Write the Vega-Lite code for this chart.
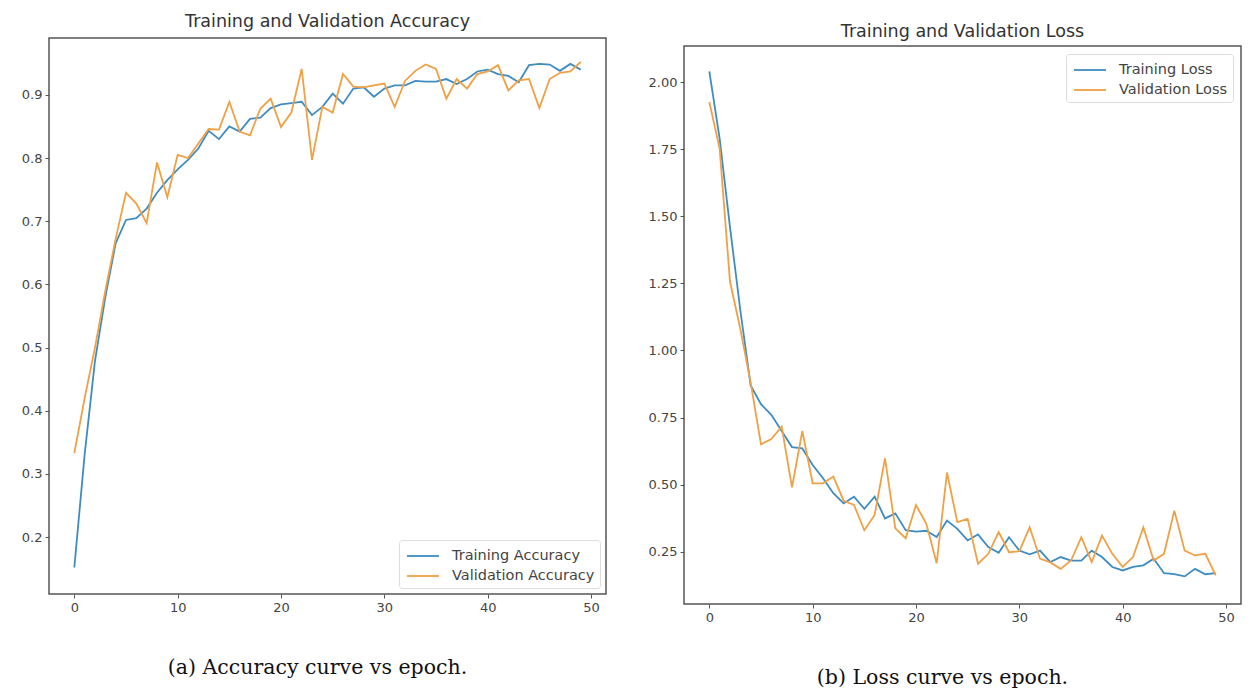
{
  "$schema": "https://vega.github.io/schema/vega-lite/v6.json",
  "background": "white",
  "padding": {"left": 20, "top": 7, "right": 5, "bottom": 0},
  "spacing": 40,
  "datasets": {
    "acc": [
      {"epoch":0,"Training Accuracy":0.152,"Validation Accuracy":0.333},
      {"epoch":1,"Training Accuracy":0.331,"Validation Accuracy":0.42},
      {"epoch":2,"Training Accuracy":0.479,"Validation Accuracy":0.5},
      {"epoch":3,"Training Accuracy":0.58,"Validation Accuracy":0.59},
      {"epoch":4,"Training Accuracy":0.665,"Validation Accuracy":0.672},
      {"epoch":5,"Training Accuracy":0.702,"Validation Accuracy":0.745},
      {"epoch":6,"Training Accuracy":0.705,"Validation Accuracy":0.728},
      {"epoch":7,"Training Accuracy":0.72,"Validation Accuracy":0.697},
      {"epoch":8,"Training Accuracy":0.745,"Validation Accuracy":0.793},
      {"epoch":9,"Training Accuracy":0.765,"Validation Accuracy":0.738},
      {"epoch":10,"Training Accuracy":0.782,"Validation Accuracy":0.805},
      {"epoch":11,"Training Accuracy":0.797,"Validation Accuracy":0.8},
      {"epoch":12,"Training Accuracy":0.815,"Validation Accuracy":0.823},
      {"epoch":13,"Training Accuracy":0.843,"Validation Accuracy":0.846},
      {"epoch":14,"Training Accuracy":0.83,"Validation Accuracy":0.845},
      {"epoch":15,"Training Accuracy":0.85,"Validation Accuracy":0.889},
      {"epoch":16,"Training Accuracy":0.842,"Validation Accuracy":0.842},
      {"epoch":17,"Training Accuracy":0.862,"Validation Accuracy":0.836},
      {"epoch":18,"Training Accuracy":0.864,"Validation Accuracy":0.878},
      {"epoch":19,"Training Accuracy":0.879,"Validation Accuracy":0.894},
      {"epoch":20,"Training Accuracy":0.885,"Validation Accuracy":0.849},
      {"epoch":21,"Training Accuracy":0.887,"Validation Accuracy":0.872},
      {"epoch":22,"Training Accuracy":0.889,"Validation Accuracy":0.941},
      {"epoch":23,"Training Accuracy":0.868,"Validation Accuracy":0.797},
      {"epoch":24,"Training Accuracy":0.881,"Validation Accuracy":0.881},
      {"epoch":25,"Training Accuracy":0.902,"Validation Accuracy":0.872},
      {"epoch":26,"Training Accuracy":0.886,"Validation Accuracy":0.933},
      {"epoch":27,"Training Accuracy":0.91,"Validation Accuracy":0.913},
      {"epoch":28,"Training Accuracy":0.912,"Validation Accuracy":0.912},
      {"epoch":29,"Training Accuracy":0.897,"Validation Accuracy":0.915},
      {"epoch":30,"Training Accuracy":0.91,"Validation Accuracy":0.918},
      {"epoch":31,"Training Accuracy":0.915,"Validation Accuracy":0.881},
      {"epoch":32,"Training Accuracy":0.915,"Validation Accuracy":0.922},
      {"epoch":33,"Training Accuracy":0.922,"Validation Accuracy":0.938},
      {"epoch":34,"Training Accuracy":0.921,"Validation Accuracy":0.948},
      {"epoch":35,"Training Accuracy":0.921,"Validation Accuracy":0.941},
      {"epoch":36,"Training Accuracy":0.925,"Validation Accuracy":0.894},
      {"epoch":37,"Training Accuracy":0.917,"Validation Accuracy":0.925},
      {"epoch":38,"Training Accuracy":0.925,"Validation Accuracy":0.91},
      {"epoch":39,"Training Accuracy":0.937,"Validation Accuracy":0.933},
      {"epoch":40,"Training Accuracy":0.94,"Validation Accuracy":0.937},
      {"epoch":41,"Training Accuracy":0.933,"Validation Accuracy":0.947},
      {"epoch":42,"Training Accuracy":0.93,"Validation Accuracy":0.907},
      {"epoch":43,"Training Accuracy":0.92,"Validation Accuracy":0.923},
      {"epoch":44,"Training Accuracy":0.947,"Validation Accuracy":0.925},
      {"epoch":45,"Training Accuracy":0.949,"Validation Accuracy":0.879},
      {"epoch":46,"Training Accuracy":0.948,"Validation Accuracy":0.925},
      {"epoch":47,"Training Accuracy":0.938,"Validation Accuracy":0.935},
      {"epoch":48,"Training Accuracy":0.949,"Validation Accuracy":0.937},
      {"epoch":49,"Training Accuracy":0.94,"Validation Accuracy":0.952}
    ],
    "loss": [
      {"epoch":0,"Training Loss":2.04,"Validation Loss":1.926},
      {"epoch":1,"Training Loss":1.79,"Validation Loss":1.752},
      {"epoch":2,"Training Loss":1.46,"Validation Loss":1.257},
      {"epoch":3,"Training Loss":1.15,"Validation Loss":1.08},
      {"epoch":4,"Training Loss":0.87,"Validation Loss":0.88},
      {"epoch":5,"Training Loss":0.8,"Validation Loss":0.65},
      {"epoch":6,"Training Loss":0.76,"Validation Loss":0.67},
      {"epoch":7,"Training Loss":0.7,"Validation Loss":0.716},
      {"epoch":8,"Training Loss":0.64,"Validation Loss":0.49},
      {"epoch":9,"Training Loss":0.635,"Validation Loss":0.7},
      {"epoch":10,"Training Loss":0.573,"Validation Loss":0.505},
      {"epoch":11,"Training Loss":0.524,"Validation Loss":0.505},
      {"epoch":12,"Training Loss":0.468,"Validation Loss":0.53},
      {"epoch":13,"Training Loss":0.43,"Validation Loss":0.44},
      {"epoch":14,"Training Loss":0.455,"Validation Loss":0.424},
      {"epoch":15,"Training Loss":0.41,"Validation Loss":0.33},
      {"epoch":16,"Training Loss":0.455,"Validation Loss":0.387},
      {"epoch":17,"Training Loss":0.374,"Validation Loss":0.598},
      {"epoch":18,"Training Loss":0.393,"Validation Loss":0.337},
      {"epoch":19,"Training Loss":0.33,"Validation Loss":0.3},
      {"epoch":20,"Training Loss":0.325,"Validation Loss":0.424},
      {"epoch":21,"Training Loss":0.328,"Validation Loss":0.354},
      {"epoch":22,"Training Loss":0.305,"Validation Loss":0.207},
      {"epoch":23,"Training Loss":0.366,"Validation Loss":0.545},
      {"epoch":24,"Training Loss":0.335,"Validation Loss":0.36},
      {"epoch":25,"Training Loss":0.292,"Validation Loss":0.372},
      {"epoch":26,"Training Loss":0.314,"Validation Loss":0.205},
      {"epoch":27,"Training Loss":0.267,"Validation Loss":0.242},
      {"epoch":28,"Training Loss":0.246,"Validation Loss":0.323},
      {"epoch":29,"Training Loss":0.304,"Validation Loss":0.248},
      {"epoch":30,"Training Loss":0.254,"Validation Loss":0.252},
      {"epoch":31,"Training Loss":0.24,"Validation Loss":0.341},
      {"epoch":32,"Training Loss":0.254,"Validation Loss":0.224},
      {"epoch":33,"Training Loss":0.211,"Validation Loss":0.21},
      {"epoch":34,"Training Loss":0.23,"Validation Loss":0.186},
      {"epoch":35,"Training Loss":0.217,"Validation Loss":0.217},
      {"epoch":36,"Training Loss":0.217,"Validation Loss":0.304},
      {"epoch":37,"Training Loss":0.254,"Validation Loss":0.211},
      {"epoch":38,"Training Loss":0.23,"Validation Loss":0.31},
      {"epoch":39,"Training Loss":0.193,"Validation Loss":0.242},
      {"epoch":40,"Training Loss":0.18,"Validation Loss":0.193},
      {"epoch":41,"Training Loss":0.193,"Validation Loss":0.23},
      {"epoch":42,"Training Loss":0.199,"Validation Loss":0.341},
      {"epoch":43,"Training Loss":0.224,"Validation Loss":0.217},
      {"epoch":44,"Training Loss":0.17,"Validation Loss":0.242},
      {"epoch":45,"Training Loss":0.166,"Validation Loss":0.403},
      {"epoch":46,"Training Loss":0.158,"Validation Loss":0.254},
      {"epoch":47,"Training Loss":0.186,"Validation Loss":0.236},
      {"epoch":48,"Training Loss":0.166,"Validation Loss":0.242},
      {"epoch":49,"Training Loss":0.17,"Validation Loss":0.162}
    ]
  },
  "config": {
    "font": "DejaVu Sans",
    "view": {"stroke": "#555555", "strokeWidth": 1.5},
    "axis": {
      "domain": false, "grid": false, "tickColor": "#555555", "tickSize": 4, "tickWidth": 1,
      "labelColor": "#444444", "labelFontSize": 13, "labelPadding": 3,
      "titleFont": "DejaVu Serif", "titleFontSize": 20.5, "titleFontWeight": "normal", "titleColor": "#111111"
    },
    "legend": {
      "title": null, "symbolType": "M-1.6,0H1.6", "symbolSize": 400, "symbolStrokeWidth": 2, "symbolOffset": 8,
      "labelFontSize": 14.5, "labelColor": "#444444", "strokeColor": "#dddddd", "fillColor": "white",
      "padding": 5, "cornerRadius": 3, "rowPadding": 2, "labelOffset": 18
    },
    "line": {"strokeWidth": 1.8},
    "text": {"font": "DejaVu Sans", "fontSize": 17.5, "color": "#333333"}
  },
  "resolve": {"scale": {"color": "independent"}, "legend": {"color": "independent"}},
  "hconcat": [
    {
      "spacing": 0,
      "resolve": {"scale": {"color": "independent"}, "legend": {"color": "independent"}},
      "vconcat": [
        {
          "width": 557, "height": 30,
          "view": {"stroke": null},
          "data": {"values": [{"label": "Training and Validation Accuracy"}]},
          "mark": {"type": "text"},
          "encoding": {"text": {"field": "label", "type": "nominal"}}
        },
        {
          "width": 557, "height": 556,
          "data": {"name": "acc"},
          "transform": [{"fold": ["Training Accuracy", "Validation Accuracy"], "as": ["series", "value"]}],
          "mark": {"type": "line"},
          "encoding": {
            "x": {"field": "epoch", "type": "quantitative",
              "scale": {"domain": [-2.45, 51.45], "nice": false, "zero": false},
              "axis": {"values": [0, 10, 20, 30, 40, 50], "title": "(a) Accuracy curve vs epoch.", "titlePadding": 43, "titleX": 268}},
            "y": {"field": "value", "type": "quantitative",
              "scale": {"domain": [0.11, 0.99], "nice": false, "zero": false},
              "axis": {"values": [0.2, 0.3, 0.4, 0.5, 0.6, 0.7, 0.8, 0.9], "format": ".1f", "title": null}},
            "color": {"field": "series", "type": "nominal",
              "scale": {"domain": ["Training Accuracy", "Validation Accuracy"], "range": ["#3f8cc2", "#f0a045"]},
              "legend": {"orient": "bottom-right", "offset": 6}}
          }
        }
      ]
    },
    {
      "spacing": 0,
      "resolve": {"scale": {"color": "independent"}, "legend": {"color": "independent"}},
      "vconcat": [
        {
          "width": 557, "height": 38,
          "view": {"stroke": null},
          "data": {"values": [{"label": "Training and Validation Loss"}]},
          "mark": {"type": "text", "dy": 6},
          "encoding": {"text": {"field": "label", "type": "nominal"}}
        },
        {
          "width": 557, "height": 558,
          "data": {"name": "loss"},
          "transform": [{"fold": ["Training Loss", "Validation Loss"], "as": ["series", "value"]}],
          "mark": {"type": "line"},
          "encoding": {
            "x": {"field": "epoch", "type": "quantitative",
              "scale": {"domain": [-2.45, 51.45], "nice": false, "zero": false},
              "axis": {"values": [0, 10, 20, 30, 40, 50], "title": "(b) Loss curve vs epoch.", "titlePadding": 43, "titleX": 258}},
            "y": {"field": "value", "type": "quantitative",
              "scale": {"domain": [0.055, 2.135], "nice": false, "zero": false},
              "axis": {"values": [0.25, 0.5, 0.75, 1.0, 1.25, 1.5, 1.75, 2.0], "format": ".2f", "title": null}},
            "color": {"field": "series", "type": "nominal",
              "scale": {"domain": ["Training Loss", "Validation Loss"], "range": ["#3f8cc2", "#f0a045"]},
              "legend": {"orient": "top-right", "offset": 8}}
          }
        }
      ]
    }
  ]
}
